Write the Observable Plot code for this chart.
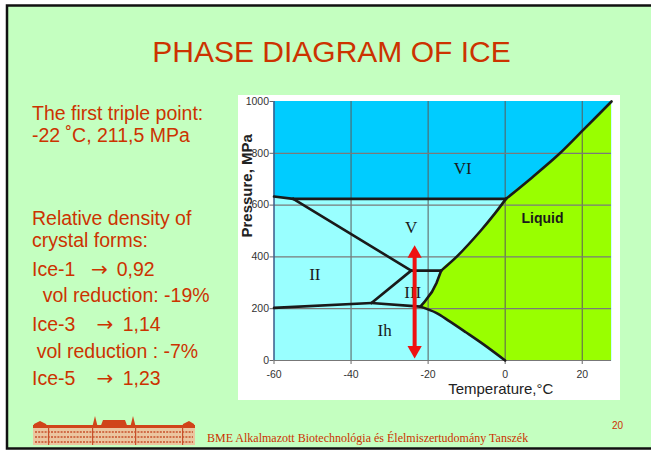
<!DOCTYPE html>
<html><head><meta charset="utf-8">
<script src="https://cdn.jsdelivr.net/npm/d3@7"></script>
<script src="https://cdn.jsdelivr.net/npm/@observablehq/plot@0.6"></script>
<style>
html,body{margin:0;padding:0;background:#fff;width:651px;height:453px;overflow:hidden;}
#slide{position:absolute;left:0;top:0;}
#chart{position:absolute;left:238px;top:95px;width:382px;height:305px;background:#fff;}
</style></head><body>
<svg id="slide" width="651" height="453" xmlns="http://www.w3.org/2000/svg">
  <rect x="7" y="5.5" width="660" height="443" fill="#C4FFC0" stroke="#111" stroke-width="2.5"/>
  <text x="331.5" y="62" text-anchor="middle" font-family="Liberation Sans, Arial, sans-serif" font-size="30" fill="#CC3300">PHASE DIAGRAM OF ICE</text>
  <g font-family="Liberation Sans, Arial, sans-serif" font-size="19.5" fill="#CC3300">
    <text x="32" y="119.5">The first triple point:</text>
    <text x="32" y="141.7">-22 ˚C, 211,5 MPa</text>
    <text x="32" y="225">Relative density of</text>
    <text x="32" y="247.3">crystal forms:</text>
    <text x="32" y="275.7">Ice-1</text><text x="91" y="275.7" font-family="DejaVu Sans, sans-serif" font-size="20">→</text><text x="116.7" y="275.7">0,92</text>
    <text x="42.7" y="302.3">vol reduction: -19%</text>
    <text x="32" y="330.7">Ice-3</text><text x="96.5" y="330.7" font-family="DejaVu Sans, sans-serif" font-size="20">→</text><text x="122.7" y="330.7">1,14</text>
    <text x="36.7" y="358.3">vol reduction : -7%</text>
    <text x="32" y="385">Ice-5</text><text x="96.5" y="385" font-family="DejaVu Sans, sans-serif" font-size="20">→</text><text x="122.7" y="385">1,23</text>
  </g>
  <g id="logo">
    <rect x="33" y="427" width="162" height="18" fill="#EBC6A0"/>
    <rect x="33" y="425" width="162" height="3" fill="#D0441A"/>
    <path d="M33 428 L34 424 L40 421 L46 424 L48 428 Z" fill="#D0441A"/>
    <path d="M182 428 L183 424 L189 421 L194 424 L195 428 Z" fill="#D0441A"/>
    <path d="M100 428 L103 420 L125 420 L128 428 Z" fill="#D0441A"/>
    <path d="M92 428 L95 416 L98 428 Z" fill="#D0441A"/>
    <path d="M130 428 L133 416 L136 428 Z" fill="#D0441A"/>
    <g stroke="#C8502A" stroke-width="1.6" stroke-dasharray="2 1.2">
      <line x1="35" y1="432" x2="193" y2="432"/>
      <line x1="35" y1="437" x2="193" y2="437"/>
      <line x1="35" y1="442" x2="193" y2="442"/>
    </g>
    <rect x="48" y="427" width="1.2" height="18" fill="#C8502A"/>
    <rect x="92" y="427" width="1.2" height="18" fill="#C8502A"/>
    <rect x="135" y="427" width="1.2" height="18" fill="#C8502A"/>
    <rect x="182" y="427" width="1.2" height="18" fill="#C8502A"/>
  </g>
  <text x="207" y="442" font-family="Liberation Serif, Times New Roman, serif" font-size="12" fill="#CC3300">BME Alkalmazott Biotechnológia és Élelmiszertudomány Tanszék</text>
  <text x="612" y="429" font-family="Liberation Sans, Arial, sans-serif" font-size="10" fill="#CC3300">20</text>
</svg>
<div id="chart"></div>
<script>
// Axes
const tempDomain = [-60, 27.6];
const pressDomain = [0, 1000];
const tempTicks = [-60, -40, -20, 0, 20];
const pressTicks = [0, 200, 400, 600, 800, 1000];

// Phase boundaries [temperature °C, pressure MPa]
const ihLiquid = [[0, 0], [-5.8, 64], [-10.2, 109], [-14.5, 152], [-17.9, 184], [-22, 208]];
const iiiLiquid = [[-22, 208], [-21, 225], [-19, 265], [-17.8, 300], [-16.6, 347]];
const vLiquid = [[-16.6, 347], [-12.3, 405], [-6.3, 502], [-2.8, 565], [0.2, 624]];
const viLiquid = [[0.2, 624], [7, 707], [14, 797], [20.6, 895], [27.6, 1000]];
const ihII = [[-60, 203], [-34.7, 222]];
const ihIII = [[-34.7, 222], [-22, 208]];
const iiIII = [[-34.7, 222], [-24.4, 347]];
const iiiV = [[-24.4, 347], [-16.6, 347]];
const iiV = [[-24.4, 347], [-55, 624]];
const iiVI = [[-60, 633], [-55, 624]];
const vVI = [[-55, 624], [0.2, 624]];

// Region labels
const phaseNames = ["VI", "V", "II", "III", "Ih"];
const phaseT = [-11, -24.4, -49.4, -24, -31.3];
const phaseP = [740, 515, 332, 264, 116];
const liquidLabel = {t: 9.7, p: 547, text: "Liquid"};

// Red double arrow
const arrowT = -23.5;
const arrowP = [40, 413];

const obj = a => a.map(([t, p]) => ({t, p}));
const liquidBoundary = obj([...ihLiquid, ...iiiLiquid.slice(1), ...vLiquid.slice(1), ...viLiquid.slice(1)]);
const viLower = obj([...iiVI, ...vVI.slice(1), ...viLiquid.slice(1)]);
const labels = phaseNames.map((text, i) => ({text, t: phaseT[i], p: phaseP[i]}));

const lineStyle = {x: "t", y: "p", stroke: "#1a1a1a", strokeWidth: 2.6, strokeLinecap: "round", strokeLinejoin: "round"};
const curved = {...lineStyle, curve: "catmull-rom"};
const fmt = d => String(d);

const chart = Plot.plot({
  width: 382, height: 305,
  marginLeft: 35.5, marginRight: 9, marginTop: 6, marginBottom: 40,
  style: {background: "#fff", fontFamily: "Liberation Sans, Arial, sans-serif", fontSize: "10.5px", color: "#333", overflow: "hidden"},
  x: {domain: tempDomain, label: null},
  y: {domain: pressDomain, label: null},
  marks: [
    Plot.frame({fill: "#99FFFF", stroke: "none"}),
    Plot.areaY(viLower, {x: "t", y1: "p", y2: pressDomain[1], fill: "#00CCFF"}),
    Plot.areaX(liquidBoundary, {y: "p", x1: "t", x2: tempDomain[1], fill: "#99FF00", curve: "catmull-rom"}),
    Plot.gridX(tempTicks.slice(1), {stroke: "#5a5a5a", strokeOpacity: 1, strokeWidth: 1}),
    Plot.gridY(pressTicks.slice(1, -1), {stroke: "#7a7a7a", strokeOpacity: 1, strokeWidth: 1.2}),
    Plot.axisX(tempTicks, {tickSize: 4, tickPadding: 6, label: null, stroke: "#666", tickFormat: fmt}),
    Plot.axisY(pressTicks, {tickSize: 4, tickPadding: 1, label: null, stroke: "#666", tickFormat: fmt}),
    Plot.ruleX([tempDomain[0]], {stroke: "#3a5a8a", strokeWidth: 1.5}),
    Plot.ruleY([pressDomain[0]], {stroke: "#777", strokeWidth: 1.2}),
    Plot.line(obj(ihLiquid), curved),
    Plot.line(obj(iiiLiquid), lineStyle),
    Plot.line(obj(vLiquid), curved),
    Plot.line(obj(viLiquid), curved),
    Plot.line(obj(ihII), lineStyle),
    Plot.line(obj(ihIII), lineStyle),
    Plot.line(obj(iiIII), lineStyle),
    Plot.line(obj(iiiV), lineStyle),
    Plot.line(obj(iiV), lineStyle),
    Plot.line(obj(iiVI), lineStyle),
    Plot.line(obj(vVI), lineStyle),
    Plot.text(labels, {x: "t", y: "p", text: "text", fontFamily: "Liberation Serif, Times New Roman, serif", fontSize: 17, fill: "#1a1a1a"}),
    Plot.text([liquidLabel], {x: "t", y: "p", text: "text", fontWeight: "bold", fontSize: 14, fill: "#1a1a1a"}),
    Plot.ruleX([arrowT], {y1: arrowP[0], y2: arrowP[1], stroke: "#EE1111", strokeWidth: 4}),
    Plot.dot([arrowP[1]], {x: arrowT, y: d => d, symbol: "triangle", r: 5.3, fill: "#EE1111", stroke: "none"}),
    Plot.dot([arrowP[0]], {x: arrowT, y: d => d, symbol: "triangle", r: 5.3, rotate: 180, fill: "#EE1111", stroke: "none"}),
    Plot.text(["Pressure, MPa"], {frameAnchor: "left", text: d => d, rotate: -90, dx: -27, dy: 6.5, fontSize: 15, fontWeight: "bold", fill: "#222"}),
    Plot.text(["Temperature,°C"], {frameAnchor: "bottom", text: d => d, dx: 58, dy: 33, fontSize: 15, fill: "#222"})
  ]
});
document.getElementById("chart").appendChild(chart);
</script>
</body></html>
